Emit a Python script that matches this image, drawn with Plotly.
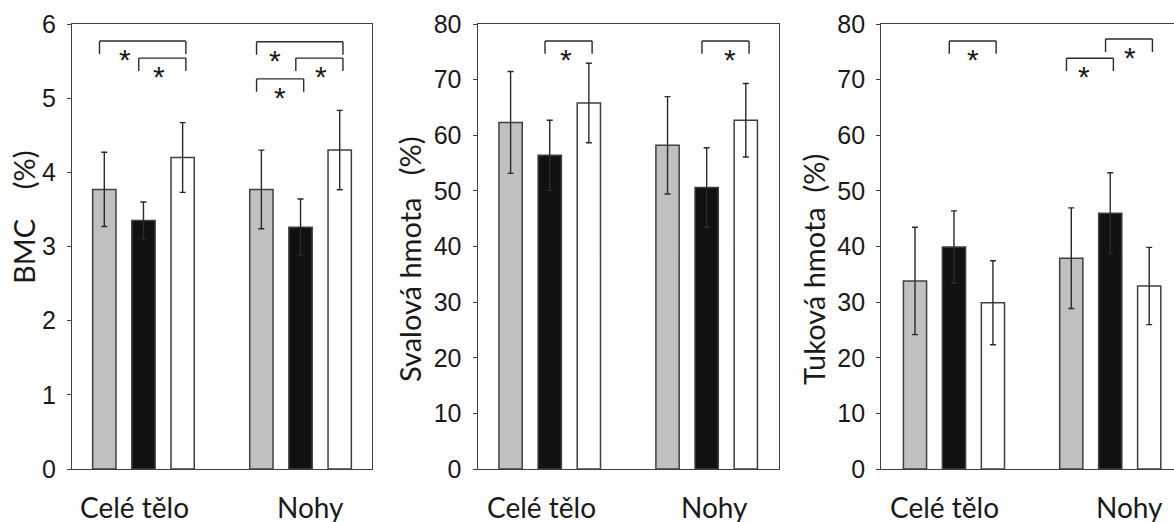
import plotly.graph_objects as go
from plotly.subplots import make_subplots

# ---------------- data ----------------
groups = ["Celé tělo", "Nohy"]
series = ["Skupina 1", "Skupina 2", "Skupina 3"]

bmc_gray = [3.77, 3.77]
bmc_gray_sd = [0.50, 0.53]
bmc_black = [3.35, 3.26]
bmc_black_sd = [0.25, 0.38]
bmc_white = [4.20, 4.30]
bmc_white_sd = [0.47, 0.535]

sval_gray = [62.3, 58.2]
sval_gray_sd = [9.15, 8.75]
sval_black = [56.4, 50.6]
sval_black_sd = [6.3, 7.15]
sval_white = [65.8, 62.7]
sval_white_sd = [7.15, 6.6]

tuk_gray = [33.8, 37.9]
tuk_gray_sd = [9.65, 9.05]
tuk_black = [39.9, 46.0]
tuk_black_sd = [6.5, 7.25]
tuk_white = [29.9, 32.9]
tuk_white_sd = [7.55, 6.95]

y_titles = ["BMC\u00a0\u00a0\u00a0\u00a0(%)", "Svalová hmota\u00a0\u00a0\u00a0(%)", "Tuková hmota\u00a0\u00a0(%)"]
y_ranges = [[0, 6], [0, 80], [0, 80]]
y_ticks = [[0, 1, 2, 3, 4, 5, 6], [0, 10, 20, 30, 40, 50, 60, 70, 80], [0, 10, 20, 30, 40, 50, 60, 70, 80]]

# significance brackets: (panel, group, bar_from, bar_to, level, star position fraction)
brackets = [
    (0, 0, 0, 2, 5.77, 0.30),
    (0, 0, 1, 2, 5.54, 0.42),
    (0, 1, 0, 2, 5.76, 0.21),
    (0, 1, 1, 2, 5.54, 0.53),
    (0, 1, 0, 1, 5.26, 0.49),
    (1, 0, 1, 2, 76.95, 0.44),
    (1, 1, 1, 2, 76.95, 0.59),
    (2, 0, 1, 2, 76.95, 0.50),
    (2, 1, 0, 1, 73.85, 0.37),
    (2, 1, 1, 2, 77.3, 0.52),
]

# ---------------- style / layout ----------------
W, H = 1174, 522
MT, MB = 24, 53
fills = ["#c0c0c0", "#111111", "#ffffff"]
edge = "#404040"
title_font = "Lato, Open Sans, sans-serif"
tick_font = "Liberation Sans, Arial, sans-serif"

dom_px = [(72, 372), (477.7, 778.7), (881.3, 1174)]
x_ranges = [[-0.455, 1.455], [-0.459, 1.459], [-0.465, 1.408]]
bar_off = [-0.25, 0.0, 0.25]
title_pos = [(23, 218), (409, 260), (813, 270)]
label_shift = [(-8.8, 10.3), (-8, 8.3), (-9, 19)]

fig = make_subplots(rows=1, cols=3)

panels = [
    [(bmc_gray, bmc_gray_sd), (bmc_black, bmc_black_sd), (bmc_white, bmc_white_sd)],
    [(sval_gray, sval_gray_sd), (sval_black, sval_black_sd), (sval_white, sval_white_sd)],
    [(tuk_gray, tuk_gray_sd), (tuk_black, tuk_black_sd), (tuk_white, tuk_white_sd)],
]

for p, data in enumerate(panels):
    for s, (vals, sds) in enumerate(data):
        fig.add_trace(go.Bar(
            x=groups, y=vals, name=series[s], showlegend=False,
            marker=dict(color=fills[s], line=dict(color=edge, width=1.5)),
            error_y=dict(type="data", array=sds, visible=True, color="#2a2a2a", thickness=1.4, width=3),
        ), row=1, col=p + 1)

axis_names = ["", "2", "3"]
for p in range(3):
    xa = "xaxis" + axis_names[p]
    ya = "yaxis" + axis_names[p]
    fig.layout[xa].update(
        domain=[dom_px[p][0] / W, dom_px[p][1] / W], range=x_ranges[p],
        showline=True, linecolor=edge, linewidth=1.4, mirror=True,
        showticklabels=False, ticks="", showgrid=False, zeroline=False, fixedrange=True,
    )
    fig.layout[ya].update(
        range=y_ranges[p], tickvals=y_ticks[p], showline=True, linecolor=edge, linewidth=1.4,
        mirror=(p < 2), ticks="outside", ticklen=4, tickcolor=edge, tickwidth=1.2,
        tickfont=dict(family=tick_font, size=25, color="#1a1a1a"), ticklabelstandoff=6,
        showgrid=False, zeroline=False, fixedrange=True,
    )

shapes = []
annotations = []
for (p, g, b0, b1, lvl, frac) in brackets:
    xr = "x" + axis_names[p]
    yr = "y" + axis_names[p]
    leg = 0.029 * (y_ranges[p][1] - y_ranges[p][0])
    xl = g + bar_off[b0] - 0.03
    xrt = g + bar_off[b1] + 0.02
    line = dict(color="#2a2a2a", width=1.4)
    shapes.append(dict(type="line", xref=xr, yref=yr, x0=xl, x1=xrt, y0=lvl, y1=lvl, line=line))
    shapes.append(dict(type="line", xref=xr, yref=yr, x0=xl, x1=xl, y0=lvl, y1=lvl - leg, line=line))
    shapes.append(dict(type="line", xref=xr, yref=yr, x0=xrt, x1=xrt, y0=lvl, y1=lvl - leg, line=line))
    annotations.append(dict(
        xref=xr, yref=yr, x=xl + frac * (xrt - xl), y=lvl, text="*", showarrow=False,
        xanchor="center", yanchor="top", yshift=0,
        font=dict(family=tick_font, size=30, color="#1a1a1a"),
    ))

for p in range(3):
    tx, ty = title_pos[p]
    annotations.append(dict(
        xref="paper", yref="paper", x=tx / W, y=(H - MB - ty) / (H - MT - MB),
        text=y_titles[p], textangle=-90, showarrow=False, xanchor="center", yanchor="middle",
        font=dict(family=title_font, size=29, color="#1a1a1a"),
    ))
    for g in range(2):
        annotations.append(dict(
            xref="x" + axis_names[p], yref="paper", x=g, y=0, xshift=label_shift[p][g],
            yshift=-19, text=groups[g], showarrow=False, xanchor="center", yanchor="top",
            font=dict(family=title_font, size=28, color="#1a1a1a"),
        ))

fig.update_layout(
    width=W, height=H, margin=dict(l=0, r=0, t=MT, b=MB),
    paper_bgcolor="white", plot_bgcolor="white",
    barmode="group", bargap=0.252, bargroupgap=0.405,
    shapes=shapes, annotations=annotations, showlegend=False,
)

fig.write_html("out.html")
